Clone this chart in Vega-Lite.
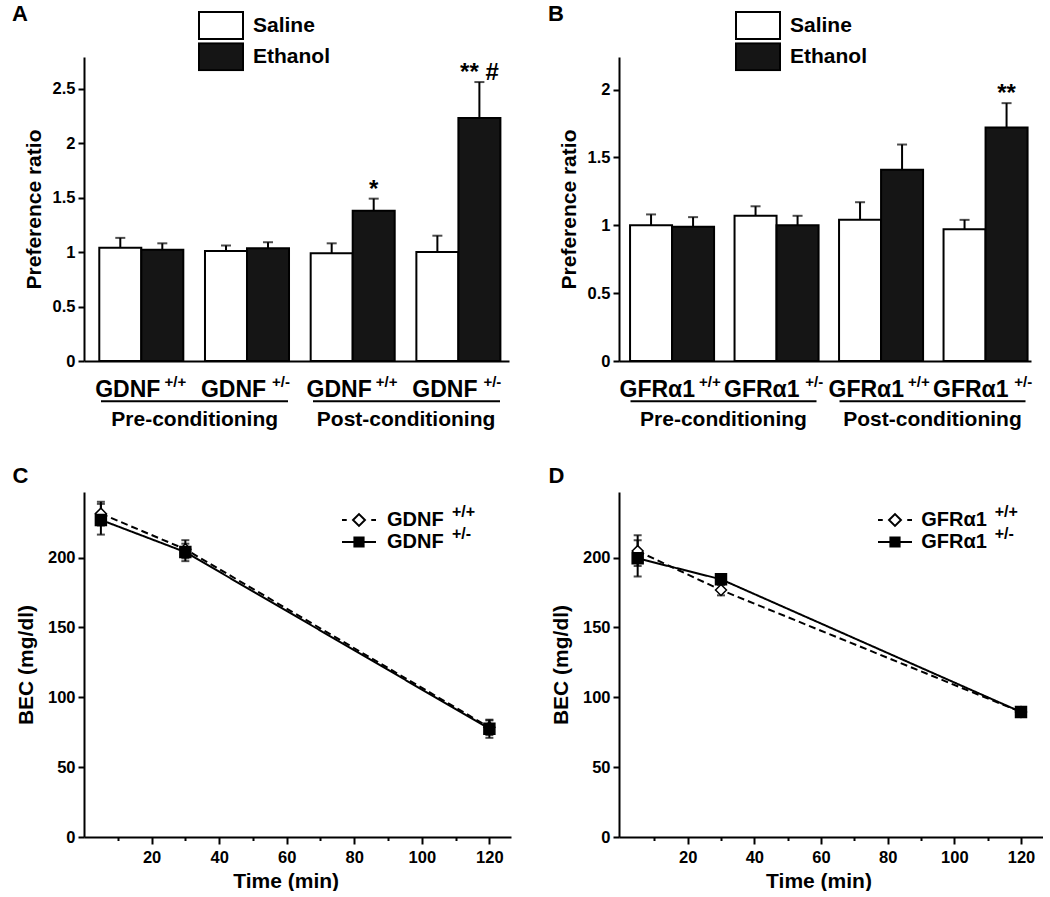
{
  "$schema": "https://vega.github.io/schema/vega-lite/v6.json",
  "padding": {"left": 12, "top": 3, "right": 0, "bottom": 0},
  "config": {
    "font": "Liberation Sans",
    "view": {"stroke": null},
    "axis": {"domainColor": "black", "domainWidth": 2, "tickColor": "black", "tickWidth": 2, "labelColor": "black", "titleColor": "black", "labelFont": "Liberation Sans", "titleFont": "Liberation Sans", "labelFontWeight": "bold", "titleFontWeight": "bold", "grid": false},
    "legend": {"labelColor": "black", "labelFontWeight": "bold", "labelFont": "Liberation Sans"},
    "title": {"color": "black", "fontWeight": "bold", "fontSize": 22, "anchor": "start", "frame": "bounds", "font": "Liberation Sans", "baseline": "alphabetic"}
  },
  "columns": 2,
  "bounds": "flush",
  "align": "none",
  "spacing": {"row": 131, "column": 108},
  "resolve": {
    "scale": {"fill": "independent", "stroke": "independent", "shape": "independent", "opacity": "independent", "strokeDash": "independent", "strokeWidth": "independent"},
    "legend": {"fill": "independent", "stroke": "independent", "shape": "independent", "opacity": "independent", "strokeDash": "independent", "strokeWidth": "independent"}
  },
  "concat": [
    {
      "width": 425, "height": 304,
      "title": {"text": "A", "dx": -11, "offset": -15},
      "data": {"values": [
        {"group": "Pre GDNF +/+", "treatment": "Saline", "value": 1.04, "upper": 1.13, "ann": ""},
        {"group": "Pre GDNF +/+", "treatment": "Ethanol", "value": 1.02, "upper": 1.08, "ann": ""},
        {"group": "Pre GDNF +/-", "treatment": "Saline", "value": 1.01, "upper": 1.06, "ann": ""},
        {"group": "Pre GDNF +/-", "treatment": "Ethanol", "value": 1.035, "upper": 1.09, "ann": ""},
        {"group": "Post GDNF +/+", "treatment": "Saline", "value": 0.99, "upper": 1.08, "ann": ""},
        {"group": "Post GDNF +/+", "treatment": "Ethanol", "value": 1.38, "upper": 1.49, "ann": "*"},
        {"group": "Post GDNF +/-", "treatment": "Saline", "value": 1.0, "upper": 1.15, "ann": ""},
        {"group": "Post GDNF +/-", "treatment": "Ethanol", "value": 2.23, "upper": 2.56, "ann": "** #"}
      ]},
      "resolve": {"axis": {"x": "independent"}},
      "layer": [
        {
          "mark": {"type": "bar", "stroke": "black", "strokeWidth": 2},
          "encoding": {
            "x": {"field": "group", "type": "nominal",
              "scale": {"domain": ["Pre GDNF +/+", "Pre GDNF +/-", "Post GDNF +/+", "Post GDNF +/-"], "paddingInner": 0.205, "paddingOuter": 0.113, "align": 0.64},
              "axis": {"orient": "bottom", "title": null, "ticks": false, "domain": true, "labelAngle": 0, "labelExpr": "split(datum.label, ' ')[1]", "labelFontSize": 23, "labelBaseline": "alphabetic", "labelPadding": 35, "labelOffset": -13.5}},
            "xOffset": {"field": "treatment", "type": "nominal", "scale": {"domain": ["Saline", "Ethanol"], "paddingInner": 0, "paddingOuter": 0}},
            "y": {"field": "value", "type": "quantitative", "title": "Preference ratio",
              "scale": {"domain": [0, 2.79], "nice": false},
              "axis": {"values": [0, 0.5, 1, 1.5, 2, 2.5], "format": "~g", "labelFontSize": 16.5, "tickSize": 6, "labelPadding": 3, "titleFontSize": 21, "titlePadding": 8}},
            "fill": {"field": "treatment", "type": "nominal",
              "scale": {"domain": ["Saline", "Ethanol"], "range": ["white", "#151515"]},
              "legend": {"title": null, "orient": "none", "legendX": 114, "legendY": -46, "symbolType": "M-1,-0.614H1V0.614H-1Z", "symbolSize": 1936, "symbolStrokeColor": "black", "symbolStrokeWidth": 2, "labelFontSize": 21, "labelOffset": 9, "clipHeight": 29, "rowPadding": 2.3}}
          }
        },
        {
          "mark": {"type": "rule", "color": "black", "strokeWidth": 2},
          "encoding": {
            "x": {"field": "group", "type": "nominal",
              "axis": {"orient": "bottom", "title": null, "ticks": false, "domain": false, "labelAngle": 0, "labelExpr": "split(datum.label, ' ')[2]", "labelFontSize": 15, "labelBaseline": "alphabetic", "labelPadding": 25, "labelOffset": 34}},
            "xOffset": {"field": "treatment", "type": "nominal"},
            "y": {"field": "value", "type": "quantitative", "title": "Preference ratio"},
            "y2": {"field": "upper"}
          }
        },
        {
          "mark": {"type": "tick", "orient": "horizontal", "color": "black", "thickness": 2, "size": 10},
          "encoding": {
            "x": {"field": "group", "type": "nominal",
              "axis": {"orient": "bottom", "title": null, "domain": false, "values": ["Pre GDNF +/-", "Post GDNF +/-"], "tickOffset": -52.8, "ticks": true, "tickSize": 2, "tickWidth": 187, "tickColor": "black", "offset": 38.7, "labelAngle": 0, "labelExpr": "split(datum.label, ' ')[0] == 'Pre' ? 'Pre-conditioning' : 'Post-conditioning'", "labelFontSize": 21, "labelBaseline": "alphabetic", "labelPadding": 24}},
            "xOffset": {"field": "treatment", "type": "nominal"},
            "y": {"field": "upper", "type": "quantitative", "title": "Preference ratio"}
          }
        },
        {
          "mark": {"type": "text", "fontSize": 24, "fontWeight": "bold", "baseline": "alphabetic", "dy": -2, "color": "black"},
          "encoding": {
            "x": {"field": "group", "type": "nominal", "axis": null},
            "xOffset": {"field": "treatment", "type": "nominal"},
            "y": {"field": "upper", "type": "quantitative", "title": "Preference ratio"},
            "text": {"field": "ann"}
          }
        }
      ]
    },
    {
      "width": 412, "height": 304,
      "title": {"text": "B", "dx": -10, "offset": -15},
      "data": {"values": [
        {"group": "Pre GFRα1 +/+", "treatment": "Saline", "value": 1.0, "upper": 1.08, "ann": ""},
        {"group": "Pre GFRα1 +/+", "treatment": "Ethanol", "value": 0.99, "upper": 1.06, "ann": ""},
        {"group": "Pre GFRα1 +/-", "treatment": "Saline", "value": 1.07, "upper": 1.14, "ann": ""},
        {"group": "Pre GFRα1 +/-", "treatment": "Ethanol", "value": 1.0, "upper": 1.07, "ann": ""},
        {"group": "Post GFRα1 +/+", "treatment": "Saline", "value": 1.04, "upper": 1.17, "ann": ""},
        {"group": "Post GFRα1 +/+", "treatment": "Ethanol", "value": 1.41, "upper": 1.595, "ann": ""},
        {"group": "Post GFRα1 +/-", "treatment": "Saline", "value": 0.97, "upper": 1.04, "ann": ""},
        {"group": "Post GFRα1 +/-", "treatment": "Ethanol", "value": 1.72, "upper": 1.9, "ann": "**"}
      ]},
      "resolve": {"axis": {"x": "independent"}},
      "layer": [
        {
          "mark": {"type": "bar", "stroke": "black", "strokeWidth": 2},
          "encoding": {
            "x": {"field": "group", "type": "nominal",
              "scale": {"domain": ["Pre GFRα1 +/+", "Pre GFRα1 +/-", "Post GFRα1 +/+", "Post GFRα1 +/-"], "paddingInner": 0.22, "paddingOuter": 0.0813, "align": 0.65},
              "axis": {"orient": "bottom", "title": null, "ticks": false, "domain": true, "labelAngle": 0, "labelExpr": "split(datum.label, ' ')[1]", "labelFontSize": 23, "labelBaseline": "alphabetic", "labelPadding": 35, "labelOffset": -13.5}},
            "xOffset": {"field": "treatment", "type": "nominal", "scale": {"domain": ["Saline", "Ethanol"], "paddingInner": 0, "paddingOuter": 0}},
            "y": {"field": "value", "type": "quantitative", "title": "Preference ratio",
              "scale": {"domain": [0, 2.24], "nice": false},
              "axis": {"values": [0, 0.5, 1, 1.5, 2], "format": "~g", "labelFontSize": 16.5, "tickSize": 6, "labelPadding": 3, "titleFontSize": 21, "titlePadding": 8}},
            "fill": {"field": "treatment", "type": "nominal",
              "scale": {"domain": ["Saline", "Ethanol"], "range": ["white", "#151515"]},
              "legend": {"title": null, "orient": "none", "legendX": 116, "legendY": -46, "symbolType": "M-1,-0.614H1V0.614H-1Z", "symbolSize": 1936, "symbolStrokeColor": "black", "symbolStrokeWidth": 2, "labelFontSize": 21, "labelOffset": 9, "clipHeight": 29, "rowPadding": 2.3}}
          }
        },
        {
          "mark": {"type": "rule", "color": "black", "strokeWidth": 2},
          "encoding": {
            "x": {"field": "group", "type": "nominal",
              "axis": {"orient": "bottom", "title": null, "ticks": false, "domain": false, "labelAngle": 0, "labelExpr": "split(datum.label, ' ')[2]", "labelFontSize": 15, "labelBaseline": "alphabetic", "labelPadding": 25, "labelOffset": 39}},
            "xOffset": {"field": "treatment", "type": "nominal"},
            "y": {"field": "value", "type": "quantitative", "title": "Preference ratio"},
            "y2": {"field": "upper"}
          }
        },
        {
          "mark": {"type": "tick", "orient": "horizontal", "color": "black", "thickness": 2, "size": 10},
          "encoding": {
            "x": {"field": "group", "type": "nominal",
              "axis": {"orient": "bottom", "title": null, "domain": false, "values": ["Pre GFRα1 +/-", "Post GFRα1 +/-"], "tickOffset": -52.3, "ticks": true, "tickSize": 2, "tickWidth": 186, "tickColor": "black", "offset": 38.7, "labelAngle": 0, "labelExpr": "split(datum.label, ' ')[0] == 'Pre' ? 'Pre-conditioning' : 'Post-conditioning'", "labelFontSize": 21, "labelBaseline": "alphabetic", "labelPadding": 24}},
            "xOffset": {"field": "treatment", "type": "nominal"},
            "y": {"field": "upper", "type": "quantitative", "title": "Preference ratio"}
          }
        },
        {
          "mark": {"type": "text", "fontSize": 24, "fontWeight": "bold", "baseline": "alphabetic", "dy": -2, "color": "black"},
          "encoding": {
            "x": {"field": "group", "type": "nominal", "axis": null},
            "xOffset": {"field": "treatment", "type": "nominal"},
            "y": {"field": "upper", "type": "quantitative", "title": "Preference ratio"},
            "text": {"field": "ann"}
          }
        }
      ]
    },
    {
      "width": 427, "height": 345,
      "title": {"text": "C", "dx": -3, "offset": 4},
      "data": {"values": [
        {"time": 5, "series": "GDNF +/+", "geno": "+/+", "bec": 231.5, "lo": 223, "hi": 240},
        {"time": 30, "series": "GDNF +/+", "geno": "+/+", "bec": 206, "lo": 199.5, "hi": 212.5},
        {"time": 120, "series": "GDNF +/+", "geno": "+/+", "bec": 78.5, "lo": 73, "hi": 84},
        {"time": 5, "series": "GDNF +/-", "geno": "+/-", "bec": 227, "lo": 216.5, "hi": 238.5},
        {"time": 30, "series": "GDNF +/-", "geno": "+/-", "bec": 204, "lo": 197.5, "hi": 210},
        {"time": 120, "series": "GDNF +/-", "geno": "+/-", "bec": 77.5, "lo": 71, "hi": 83.5}
      ]},
      "resolve": {"axis": {"x": "independent"}, "scale": {"shape": "independent", "fill": "independent", "stroke": "independent"}},
      "layer": [
        {
          "mark": {"type": "line", "color": "black"},
          "encoding": {
            "x": {"field": "time", "type": "quantitative", "scale": {"domain": [0, 126.4], "nice": false},
              "axis": {"orient": "bottom", "title": "Time (min)", "titleFontSize": 21, "titleX": 201.7, "titleY": 50, "titleBaseline": "alphabetic", "values": [20, 40, 60, 80, 100, 120], "labelFontSize": 16.5, "labelBaseline": "alphabetic", "labelPadding": 18, "tickSize": 7, "labelFlush": false}},
            "y": {"field": "bec", "type": "quantitative", "title": "BEC (mg/dl)", "scale": {"domain": [0, 247], "nice": false},
              "axis": {"values": [0, 50, 100, 150, 200], "labelFontSize": 16.5, "tickSize": 6, "labelPadding": 3, "titleFontSize": 21, "titlePadding": 11}},
            "strokeDash": {"field": "series", "type": "nominal", "scale": {"domain": ["GDNF +/+", "GDNF +/-"], "range": [[7, 4], [1, 0]]}, "legend": null},
            "strokeWidth": {"field": "geno", "type": "ordinal", "scale": {"range": [2, 2]},
              "legend": {"title": null, "orient": "none", "legendX": 257, "legendY": 9, "symbolType": "M0,0", "symbolSize": 1156, "clipHeight": 22, "rowPadding": 0, "labelFontSize": 16, "labelOffset": 75, "symbolOpacity": 0}}
          }
        },
        {
          "mark": {"type": "rule", "color": "black", "strokeWidth": 2},
          "encoding": {
            "x": {"field": "time", "type": "quantitative",
              "axis": {"orient": "bottom", "title": null, "domain": false, "labels": false, "values": [10, 30, 50, 70, 90, 110], "tickSize": 3.5}},
            "y": {"field": "lo", "type": "quantitative", "title": "BEC (mg/dl)"},
            "y2": {"field": "hi"}
          }
        },
        {
          "mark": {"type": "tick", "orient": "horizontal", "color": "black", "thickness": 2, "size": 8},
          "encoding": {
            "x": {"field": "time", "type": "quantitative", "axis": null},
            "y": {"field": "lo", "type": "quantitative", "title": "BEC (mg/dl)"}
          }
        },
        {
          "mark": {"type": "tick", "orient": "horizontal", "color": "black", "thickness": 2, "size": 8},
          "encoding": {
            "x": {"field": "time", "type": "quantitative", "axis": null},
            "y": {"field": "hi", "type": "quantitative", "title": "BEC (mg/dl)"}
          }
        },
        {
          "mark": {"type": "point", "filled": true, "stroke": "black", "strokeWidth": 1.5, "size": 120, "opacity": 1},
          "encoding": {
            "x": {"field": "time", "type": "quantitative", "axis": null},
            "y": {"field": "bec", "type": "quantitative", "title": "BEC (mg/dl)"},
            "shape": {"field": "series", "type": "nominal", "scale": {"domain": ["GDNF +/+", "GDNF +/-"], "range": ["diamond", "square"]}, "legend": null},
            "fill": {"field": "series", "type": "nominal", "scale": {"domain": ["GDNF +/+", "GDNF +/-"], "range": ["white", "black"]}, "legend": null}
          }
        },
        {
          "transform": [{"filter": "false"}],
          "mark": {"type": "point", "filled": true, "strokeWidth": 2, "opacity": 1},
          "encoding": {
            "x": {"field": "time", "type": "quantitative", "axis": null},
            "y": {"field": "bec", "type": "quantitative", "title": "BEC (mg/dl)"},
            "shape": {"field": "series", "type": "nominal",
              "scale": {"domain": ["GDNF +/+", "GDNF +/-"], "range": ["M-1,0H-0.72M-0.35,0L0,-0.35L0.35,0L0,0.35ZM0.72,0H1", "M-1,0H1M-0.27,-0.27H0.27V0.27H-0.27Z"]},
              "legend": {"title": null, "orient": "none", "legendX": 257, "legendY": 17, "symbolSize": 1156, "clipHeight": 22, "rowPadding": 0, "labelFontSize": 20, "labelOffset": 10, "labelExpr": "split(datum.label, ' ')[0]", "symbolStrokeWidth": 2}},
            "fill": {"field": "series", "type": "nominal", "scale": {"domain": ["GDNF +/+", "GDNF +/-"], "range": ["white", "black"]}},
            "stroke": {"field": "series", "type": "nominal", "scale": {"domain": ["GDNF +/+", "GDNF +/-"], "range": ["black", "black"]}}
          }
        }
      ]
    },
    {
      "width": 424, "height": 345,
      "title": {"text": "D", "dx": -2, "offset": 4},
      "data": {"values": [
        {"time": 5, "series": "GFRα1 +/+", "geno": "+/+", "bec": 204.7, "lo": 194, "hi": 216},
        {"time": 30, "series": "GFRα1 +/+", "geno": "+/+", "bec": 176.8, "lo": 173, "hi": 180.5},
        {"time": 120, "series": "GFRα1 +/+", "geno": "+/+", "bec": 89.5, "lo": 86.5, "hi": 92.5},
        {"time": 5, "series": "GFRα1 +/-", "geno": "+/-", "bec": 199.5, "lo": 186.5, "hi": 212.5},
        {"time": 30, "series": "GFRα1 +/-", "geno": "+/-", "bec": 184.5, "lo": 181.5, "hi": 187.5},
        {"time": 120, "series": "GFRα1 +/-", "geno": "+/-", "bec": 89.5, "lo": 86.5, "hi": 92.5}
      ]},
      "resolve": {"axis": {"x": "independent"}, "scale": {"shape": "independent", "fill": "independent", "stroke": "independent"}},
      "layer": [
        {
          "mark": {"type": "line", "color": "black"},
          "encoding": {
            "x": {"field": "time", "type": "quantitative", "scale": {"domain": [-0.6, 126.6], "nice": false},
              "axis": {"orient": "bottom", "title": "Time (min)", "titleFontSize": 21, "titleX": 199.5, "titleY": 50, "titleBaseline": "alphabetic", "values": [20, 40, 60, 80, 100, 120], "labelFontSize": 16.5, "labelBaseline": "alphabetic", "labelPadding": 18, "tickSize": 7, "labelFlush": false}},
            "y": {"field": "bec", "type": "quantitative", "title": "BEC (mg/dl)", "scale": {"domain": [0, 247], "nice": false},
              "axis": {"values": [0, 50, 100, 150, 200], "labelFontSize": 16.5, "tickSize": 6, "labelPadding": 3, "titleFontSize": 21, "titlePadding": 11}},
            "strokeDash": {"field": "series", "type": "nominal", "scale": {"domain": ["GFRα1 +/+", "GFRα1 +/-"], "range": [[7, 4], [1, 0]]}, "legend": null},
            "strokeWidth": {"field": "geno", "type": "ordinal", "scale": {"range": [2, 2]},
              "legend": {"title": null, "orient": "none", "legendX": 258, "legendY": 9, "symbolType": "M0,0", "symbolSize": 1156, "clipHeight": 22, "rowPadding": 0, "labelFontSize": 16, "labelOffset": 81.7, "symbolOpacity": 0}}
          }
        },
        {
          "mark": {"type": "rule", "color": "black", "strokeWidth": 2},
          "encoding": {
            "x": {"field": "time", "type": "quantitative",
              "axis": {"orient": "bottom", "title": null, "domain": false, "labels": false, "values": [10, 30, 50, 70, 90, 110], "tickSize": 3.5}},
            "y": {"field": "lo", "type": "quantitative", "title": "BEC (mg/dl)"},
            "y2": {"field": "hi"}
          }
        },
        {
          "mark": {"type": "tick", "orient": "horizontal", "color": "black", "thickness": 2, "size": 8},
          "encoding": {
            "x": {"field": "time", "type": "quantitative", "axis": null},
            "y": {"field": "lo", "type": "quantitative", "title": "BEC (mg/dl)"}
          }
        },
        {
          "mark": {"type": "tick", "orient": "horizontal", "color": "black", "thickness": 2, "size": 8},
          "encoding": {
            "x": {"field": "time", "type": "quantitative", "axis": null},
            "y": {"field": "hi", "type": "quantitative", "title": "BEC (mg/dl)"}
          }
        },
        {
          "mark": {"type": "point", "filled": true, "stroke": "black", "strokeWidth": 1.5, "size": 120, "opacity": 1},
          "encoding": {
            "x": {"field": "time", "type": "quantitative", "axis": null},
            "y": {"field": "bec", "type": "quantitative", "title": "BEC (mg/dl)"},
            "shape": {"field": "series", "type": "nominal", "scale": {"domain": ["GFRα1 +/+", "GFRα1 +/-"], "range": ["diamond", "square"]}, "legend": null},
            "fill": {"field": "series", "type": "nominal", "scale": {"domain": ["GFRα1 +/+", "GFRα1 +/-"], "range": ["white", "black"]}, "legend": null}
          }
        },
        {
          "transform": [{"filter": "false"}],
          "mark": {"type": "point", "filled": true, "strokeWidth": 2, "opacity": 1},
          "encoding": {
            "x": {"field": "time", "type": "quantitative", "axis": null},
            "y": {"field": "bec", "type": "quantitative", "title": "BEC (mg/dl)"},
            "shape": {"field": "series", "type": "nominal",
              "scale": {"domain": ["GFRα1 +/+", "GFRα1 +/-"], "range": ["M-1,0H-0.72M-0.35,0L0,-0.35L0.35,0L0,0.35ZM0.72,0H1", "M-1,0H1M-0.27,-0.27H0.27V0.27H-0.27Z"]},
              "legend": {"title": null, "orient": "none", "legendX": 258, "legendY": 17, "symbolSize": 1156, "clipHeight": 22, "rowPadding": 0, "labelFontSize": 20, "labelOffset": 8.3, "labelExpr": "split(datum.label, ' ')[0]", "symbolStrokeWidth": 2}},
            "fill": {"field": "series", "type": "nominal", "scale": {"domain": ["GFRα1 +/+", "GFRα1 +/-"], "range": ["white", "black"]}},
            "stroke": {"field": "series", "type": "nominal", "scale": {"domain": ["GFRα1 +/+", "GFRα1 +/-"], "range": ["black", "black"]}}
          }
        }
      ]
    }
  ]
}
